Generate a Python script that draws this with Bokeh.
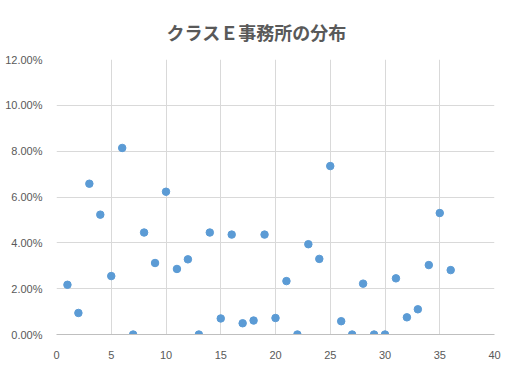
from bokeh.plotting import figure
from bokeh.embed import file_html
from bokeh.resources import INLINE
from bokeh.models import FixedTicker, NumeralTickFormatter, Range1d, ColumnDataSource

office_no = list(range(1, 37))
share = [0.0217, 0.0094, 0.0658, 0.0523, 0.0255, 0.0814, 0.0, 0.0445, 0.0312, 0.0623,
         0.0286, 0.0328, 0.0, 0.0445, 0.0070, 0.0436, 0.0049, 0.0061, 0.0436, 0.0072,
         0.0233, 0.0, 0.0394, 0.0330, 0.0735, 0.0058, 0.0, 0.0222, 0.0, 0.0,
         0.0245, 0.0075, 0.0110, 0.0303, 0.0530, 0.0281]
x_ticks = [0, 5, 10, 15, 20, 25, 30, 35, 40]
y_ticks = [0.0, 0.02, 0.04, 0.06, 0.08, 0.10, 0.12]
title_text = "クラスＥ事務所の分布"

src = ColumnDataSource(dict(x=office_no, y=share))

p = figure(width=515, height=366, output_backend="svg", toolbar_location=None,
           x_range=Range1d(0, 40), y_range=Range1d(0, 0.12),
           min_border_left=56, min_border_right=21, min_border_top=59, min_border_bottom=32)

p.title.text = title_text
p.title.align = "left"
p.title.offset = 110
p.title.text_font = "Noto Sans CJK JP"
p.title.text_font_size = "18px"
p.title.text_color = "#595959"
p.title.text_font_style = "bold"
p.title.standoff = 30

p.scatter("x", "y", source=src, size=7.5, color="#5b9bd5", line_color="#5b9bd5")

p.xaxis.ticker = FixedTicker(ticks=x_ticks)
p.yaxis.ticker = FixedTicker(ticks=y_ticks)
p.yaxis.formatter = NumeralTickFormatter(format="0.00%")

for ax in (p.xaxis[0], p.yaxis[0]):
    ax.axis_line_color = None
    ax.major_tick_line_color = None
    ax.minor_tick_line_color = None
    ax.major_label_text_font = "Liberation Sans"
    ax.major_label_text_font_size = "11px"
    ax.major_label_text_color = "#595959"
p.xaxis.axis_line_color = "#bfbfbf"
p.xaxis.major_label_standoff = 10
p.yaxis.major_label_standoff = 8

p.xgrid.grid_line_color = "#d9d9d9"
p.ygrid.grid_line_color = "#d9d9d9"
p.outline_line_color = None

open("out.html", "w").write(file_html(p, INLINE))
